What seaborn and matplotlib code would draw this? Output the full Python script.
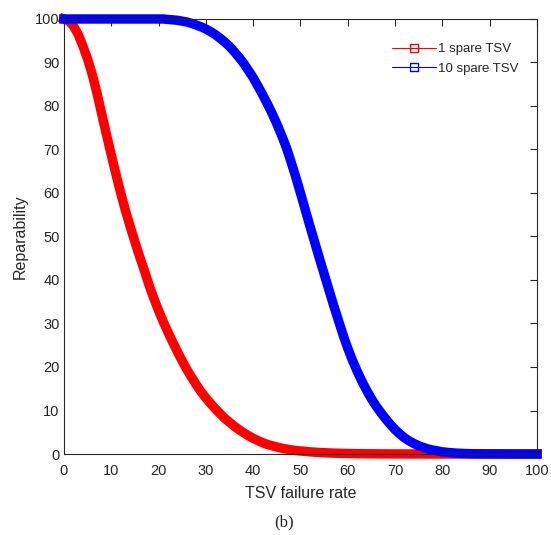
import numpy as np
import pandas as pd
import seaborn as sns
import matplotlib.pyplot as plt
from matplotlib.lines import Line2D

# TSV failure rate (x) and reparability (%)
failure_rate = list(range(0, 101))

rep_1_spare = [100, 99.6, 98.4, 96.5, 93.8, 90.8, 87.2, 82.9, 78.1, 73.4,
               68.8, 64.3, 60.0, 56.0, 52.3, 48.8, 45.4, 42.2, 38.8, 35.8,
               33.0, 30.4, 28.0, 25.7, 23.5, 21.4, 19.4, 17.6, 15.9, 14.3,
               12.9, 11.6, 10.4, 9.3, 8.2, 7.3, 6.4, 5.6, 4.9, 4.2,
               3.6, 3.1, 2.6, 2.2, 1.9, 1.6, 1.35, 1.15, 0.95, 0.8,
               0.7, 0.6, 0.5, 0.42, 0.35, 0.3, 0.25, 0.2, 0.17, 0.14,
               0.12, 0.1, 0.08, 0.07, 0.06, 0.05, 0.04, 0.03, 0.03, 0.02,
               0.02, 0.02, 0.01, 0.01, 0.01, 0.01, 0.01, 0, 0, 0,
               0, 0, 0, 0, 0, 0, 0, 0, 0, 0,
               0, 0, 0, 0, 0, 0, 0, 0, 0, 0, 0]

rep_10_spare = [100, 100, 100, 100, 100, 100, 100, 100, 100, 100,
                100, 100, 100, 100, 100, 100, 100, 100, 100, 100,
                100, 100, 99.9, 99.8, 99.7, 99.5, 99.3, 99.0, 98.6, 98.2,
                97.7, 97.1, 96.4, 95.6, 94.7, 93.7, 92.5, 91.2, 89.8, 88.2,
                86.5, 84.6, 82.6, 80.5, 78.3, 75.9, 73.3, 70.5, 67.2, 63.7,
                60.0, 56.2, 52.4, 48.7, 45.0, 41.4, 37.8, 34.2, 30.8, 27.4,
                24.3, 21.5, 19.0, 16.7, 14.6, 12.7, 11.0, 9.5, 8.1, 6.8,
                5.6, 4.6, 3.7, 3.0, 2.4, 1.9, 1.5, 1.15, 0.9, 0.7,
                0.5, 0.38, 0.28, 0.2, 0.15, 0.1, 0.07, 0.05, 0.04, 0.03,
                0.02, 0.01, 0.01, 0, 0, 0, 0, 0, 0, 0, 0]

df = pd.DataFrame({'rate': failure_rate, 'one': rep_1_spare, 'ten': rep_10_spare})

sns.set_theme(style='white')
plt.rcParams['font.family'] = ['Liberation Sans', 'DejaVu Sans']
plt.rcParams['xtick.direction'] = 'in'
plt.rcParams['ytick.direction'] = 'in'

fig = plt.figure(figsize=(5.51, 5.35), dpi=100)
ax = fig.add_axes([0.116, 0.1514, 0.8586, 0.8131])

sns.lineplot(data=df, x='rate', y='one', color='#ff0000', linewidth=6.8,
             legend=False, ax=ax, clip_on=False, solid_capstyle='projecting')
sns.lineplot(data=df, x='rate', y='ten', color='#0000ff', linewidth=6.8,
             legend=False, ax=ax, clip_on=False, solid_capstyle='projecting')

ax.set_xlim(0, 100)
ax.set_ylim(0, 100)
ax.set_xticks(range(0, 101, 10))
ax.set_yticks(range(0, 101, 10))
ax.tick_params(axis='both', which='both', top=True, right=True, length=5,
               width=0.8, color='#262626', labelsize=10.5, labelcolor='#262626')
ax.tick_params(axis='x', pad=7)
ax.tick_params(axis='y', pad=3)
for s in ax.spines.values():
    s.set_color('#262626')
    s.set_linewidth(0.8)

ax.set_xlabel('TSV failure rate', fontsize=11.5, color='#262626', labelpad=6)
ax.set_ylabel('Reparability', fontsize=11.5, color='#262626', labelpad=5)

handles = [
    Line2D([], [], color='#ff0000', linewidth=0.8, marker='s', markersize=6,
           markerfacecolor='none', markeredgecolor='#ff0000', label='1 spare TSV'),
    Line2D([], [], color='#0000ff', linewidth=0.8, marker='s', markersize=6,
           markerfacecolor='none', markeredgecolor='#0000ff', label='10 spare TSV'),
]
ax.legend(handles=handles, loc='upper right', bbox_to_anchor=(0.9865, 0.972),
          frameon=False, fontsize=9.5, handlelength=3.3, handletextpad=0.2,
          labelspacing=0.55, labelcolor='#262626')

fig.text(0.515, 0.0243, '(b)', family='Liberation Serif', fontsize=12,
         ha='center', va='center')

fig.savefig('out.png', dpi=100)
